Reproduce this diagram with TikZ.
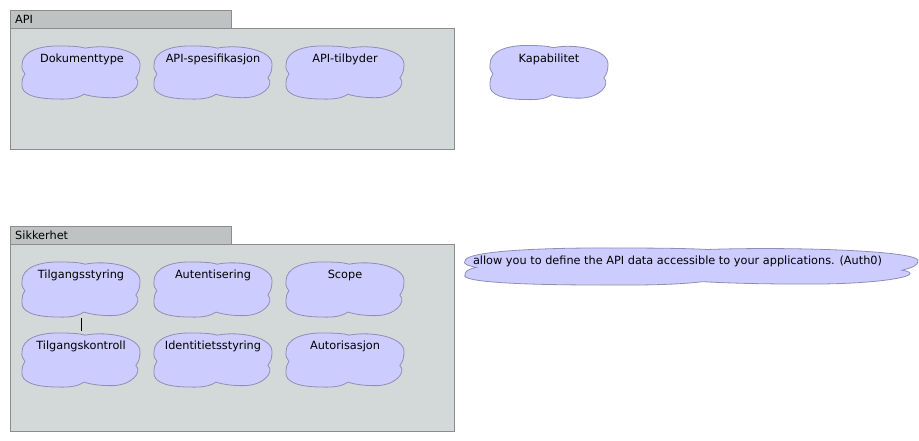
\documentclass[tikz,border=0pt]{standalone}
\usepackage{fontspec}
\setmainfont{DejaVu Sans}
\definecolor{cloudfill}{HTML}{CCCCFF}
\definecolor{cloudline}{HTML}{8E8EB8}
\definecolor{framefill}{HTML}{D3D9D9}
\definecolor{tabfill}{HTML}{BEC2C2}
\definecolor{frameline}{HTML}{8C8C8C}
\tikzset{
  cloudbox/.style={draw=none, inner sep=0pt, rectangle},
  cloudpath/.style={fill=cloudfill, draw=cloudline, line width=0.8pt},
  cloudtext/.style={inner sep=0pt, font=\fontsize{11.3}{13}\selectfont, text=black},
  framebody/.style={fill=framefill, draw=frameline, line width=0.8pt},
  frametab/.style={fill=tabfill, draw=frameline, line width=0.8pt},
  tabtext/.style={inner sep=0pt, anchor=west, font=\fontsize{11.3}{13}\selectfont},
  link/.style={draw=black, line width=0.8pt},
}
% name, cx, cy, half width, half height, text, text xshift
\newcommand\mycloud[7]{%
  \node[cloudbox, minimum width=#4*2pt, minimum height=#5*2pt] (#1) at (#2,#3) {};
  \begin{scope}[shift={(#2,#3)}, x=#4pt, y=#5pt]
    \path[cloudpath] (0.07,0.92)
      .. controls (0.45,1.08) and (1.01,0.85) .. (1,0.3)
      .. controls (1,0.08) and (0.98,-0.05) .. (0.93,-0.2)
      .. controls (1.05,-0.45) and (0.85,-0.97) .. (0.5,-0.95)
      .. controls (0.32,-0.95) and (0.16,-0.9) .. (0.05,-0.82)
      .. controls (-0.06,-0.98) and (-0.2,-1.02) .. (-0.4,-1)
      .. controls (-0.8,-1) and (-1.02,-0.8) .. (-1,-0.45)
      .. controls (-1,-0.28) and (-0.99,-0.15) .. (-0.95,-0.05)
      .. controls (-0.99,0.05) and (-1.01,0.15) .. (-1,0.3)
      .. controls (-1,0.8) and (-0.7,1.02) .. (-0.35,1)
      .. controls (-0.15,1) and (-0.02,0.98) .. cycle;
  \end{scope}
  \node[cloudtext] (#1-t) at ([yshift=-14pt,xshift=#7pt]#1.north) {#6};
}
\begin{document}
\begin{tikzpicture}[x=1pt, y=-1pt]
\useasboundingbox (0,0) rectangle (919,441);
% API package
\path[frametab] (10,10) rectangle (231,28);
\path[framebody] (10,28) rectangle (454,149);
\node[tabtext] (apitab) at (15,19) {API};
\mycloud{dok}{81}{72.5}{59}{26.5}{Dokumenttype}{1}
\mycloud{spec}{213}{72.5}{59}{26.5}{API-spesifikasjon}{0}
\mycloud{tilb}{345}{72.5}{59}{26.5}{API-tilbyder}{0}
\mycloud{kap}{549}{72.5}{59}{27}{Kapabilitet}{0}
% Sikkerhet package
\path[frametab] (10,226) rectangle (231,244);
\path[framebody] (10,244) rectangle (454,431);
\node[tabtext] (sikktab) at (15,235) {Sikkerhet};
\mycloud{tstyr}{81}{289.5}{59}{27.5}{Tilgangsstyring}{0}
\mycloud{aut}{213}{289.5}{59}{27.5}{Autentisering}{0}
\mycloud{scope}{345}{289.5}{59}{27.5}{Scope}{0}
\mycloud{tkon}{81}{360}{59}{27}{Tilgangskontroll}{0}
\mycloud{ident}{213}{360}{59}{27}{Identitietsstyring}{0}
\mycloud{autor}{345}{360}{59}{27}{Autorisasjon}{0}
\mycloud{auth0}{691.5}{266.5}{226.5}{18.5}{allow you to define the API data accessible to your applications. (Auth0)}{-14}
\draw[link] ([yshift=-1pt]tstyr.south) -- ([yshift=2pt]tkon.north);
\end{tikzpicture}
\end{document}
